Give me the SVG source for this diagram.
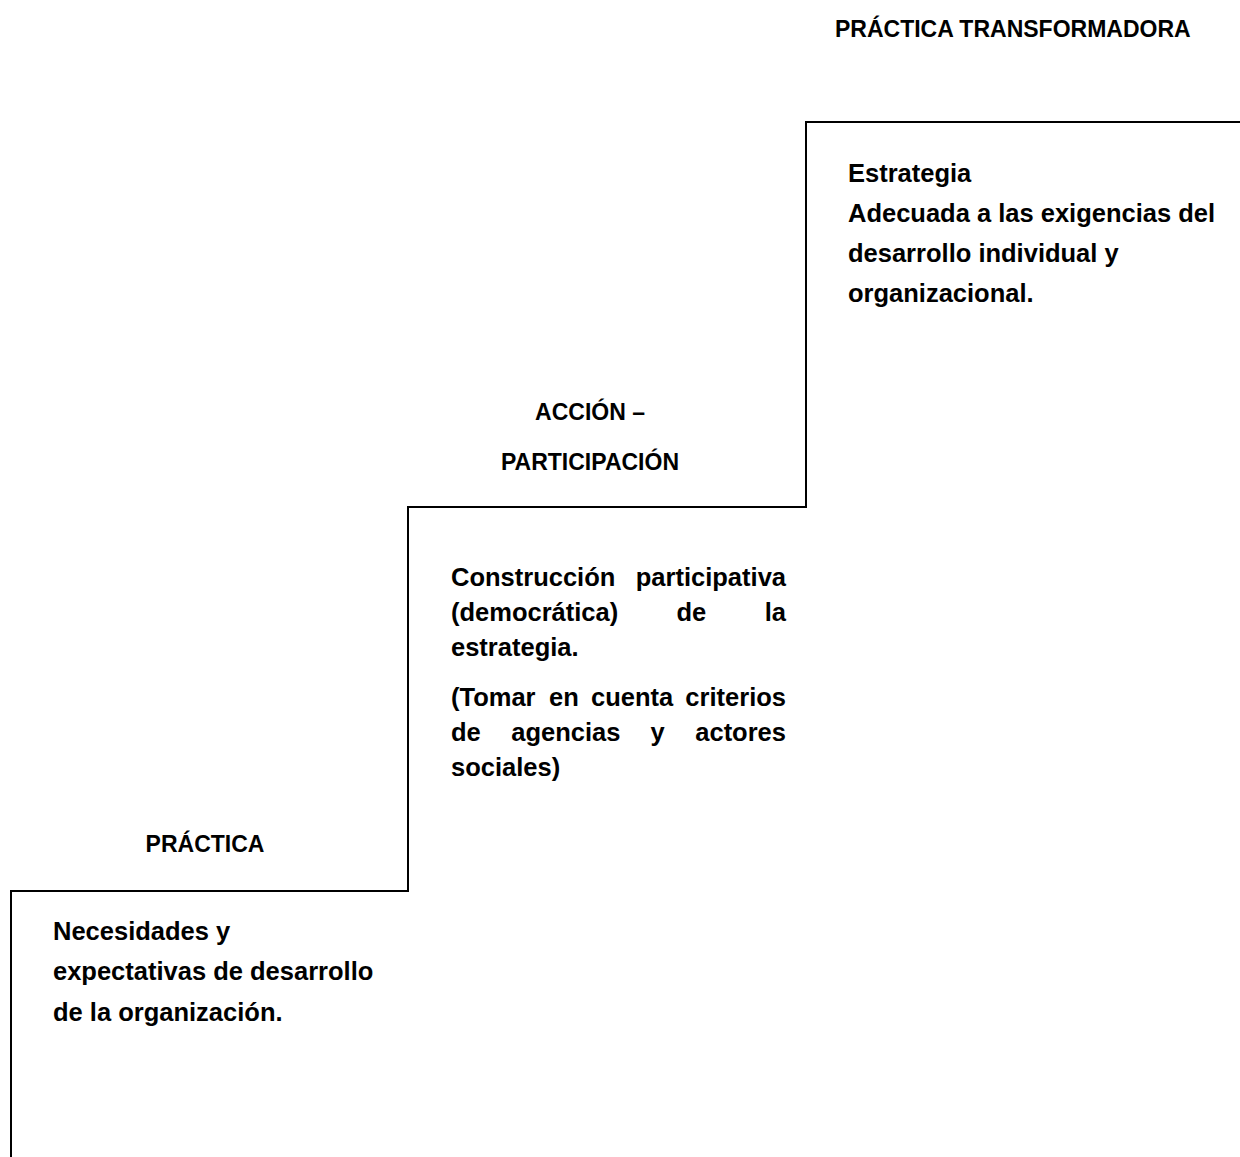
<svg xmlns="http://www.w3.org/2000/svg" width="1240" height="1157" viewBox="0 0 1240 1157">
<style>
.h{font-family:"Liberation Sans",Arial,sans-serif;font-weight:bold;font-size:23px;fill:#000}
.b{font-family:"Liberation Sans",Arial,sans-serif;font-weight:bold;font-size:25.5px;fill:#000}
.e{text-anchor:end}
.m{text-anchor:middle}
.stair{fill:none;stroke:#000;stroke-width:2}
</style>
<rect width="1240" height="1157" fill="#fff"/>
<g id="connectors">
<path class="stair" d="M11,1157 V891 H408 V507 H806 V122 H1240"/>
</g>
<g id="practica-transformadora">
<text class="h" x="835" y="37">PRÁCTICA TRANSFORMADORA</text>
<text class="b" x="848" y="182">Estrategia</text>
<text class="b" x="848" y="222">Adecuada a las exigencias del</text>
<text class="b" x="848" y="262">desarrollo individual y</text>
<text class="b" x="848" y="302">organizacional.</text>
</g>
<g id="accion-participacion">
<text class="h m" x="590" y="420">ACCIÓN –</text>
<text class="h m" x="590" y="470">PARTICIPACIÓN</text>
<text class="b" x="451" y="586">Construcción</text>
<text class="b e" x="786" y="586">participativa</text>
<text class="b" x="451" y="621">(democrática)</text>
<text class="b" x="676.5" y="621">de</text>
<text class="b e" x="786" y="621">la</text>
<text class="b" x="451" y="656">estrategia.</text>
<text class="b" x="451" y="706">(Tomar</text>
<text class="b" x="549" y="706">en</text>
<text class="b" x="591" y="706">cuenta</text>
<text class="b e" x="786" y="706">criterios</text>
<text class="b" x="451" y="741">de</text>
<text class="b" x="511.3" y="741">agencias</text>
<text class="b" x="650.6" y="741">y</text>
<text class="b e" x="786" y="741">actores</text>
<text class="b" x="451" y="776">sociales)</text>
</g>
<g id="practica">
<text class="h m" x="205" y="852">PRÁCTICA</text>
<text class="b" x="53" y="940">Necesidades y</text>
<text class="b" x="53" y="980">expectativas de desarrollo</text>
<text class="b" x="53" y="1021">de la organización.</text>
</g>
</svg>
